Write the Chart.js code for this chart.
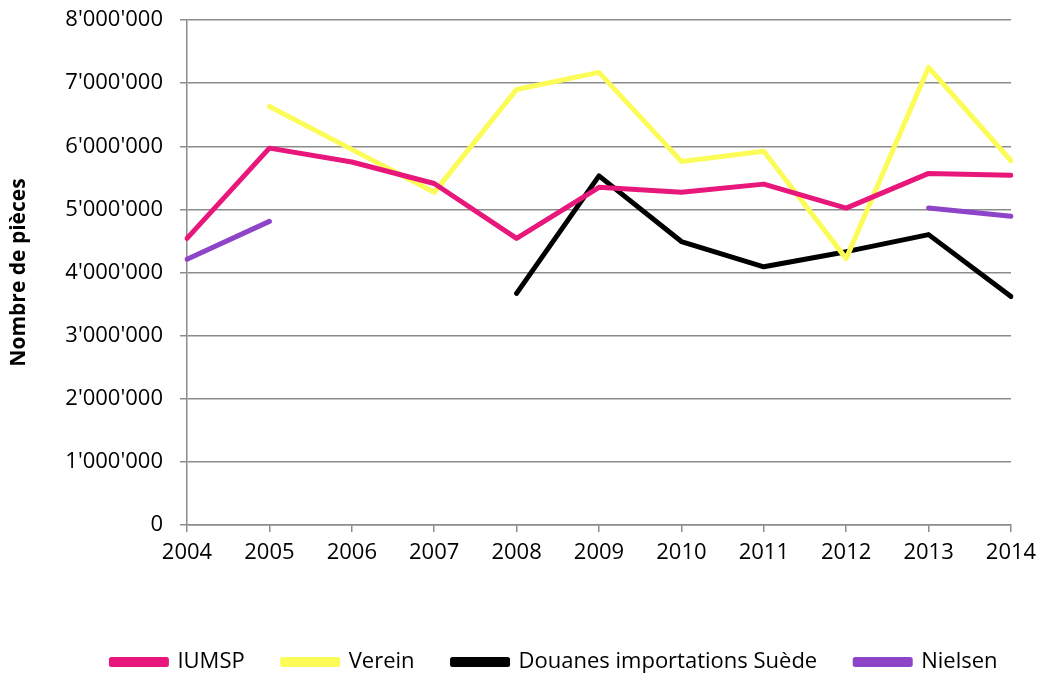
<!DOCTYPE html>
<html>
<head>
<meta charset="utf-8">
<script src="https://cdn.jsdelivr.net/npm/chart.js@4"></script>
<style>
  html, body { margin: 0; padding: 0; background: #fff; }
  #wrap { width: 1040px; height: 673px; }
</style>
</head>
<body>
<div id="wrap"><canvas id="chart"></canvas></div>
<script>
// Years on the x axis
const years = ['2004', '2005', '2006', '2007', '2008', '2009', '2010', '2011', '2012', '2013', '2014'];

// Series values (pieces), null where no data
const iumsp = [4540000, 5970000, 5750000, 5410000, 4540000, 5350000, 5270000, 5400000, 5020000, 5570000, 5540000];
const verein = [null, 6630000, 5950000, 5270000, 6900000, 7170000, 5760000, 5920000, 4220000, 7250000, 5770000];
const douanes = [null, null, null, null, 3670000, 5530000, 4490000, 4090000, 4330000, 4600000, 3620000];
const nielsen = [4210000, 4810000, null, null, null, null, null, null, null, 5020000, 4890000];

const FONT = "'Open Sans', sans-serif";
const GRID = '#8c8c8c';

// 8'000'000 style thousands separator
function swissFormat(v) {
  return String(v).replace(/\B(?=(\d{3})+(?!\d))/g, "'");
}

function lineSet(label, data, color) {
  return {
    label,
    data,
    borderColor: color,
    backgroundColor: color,
    borderWidth: 5,
    pointRadius: 0,
    tension: 0,
    spanGaps: false,
    borderCapStyle: 'round',
    borderJoinStyle: 'round',
  };
}

// legend sits a bit right of the canvas centre in the original
const legendShift = {
  id: 'legendShift',
  afterLayout(chart) {
    if (chart.legend) {
      chart.legend.left += 49;
      chart.legend.right += 49;
    }
  },
};

new Chart(document.getElementById('chart'), {
  type: 'line',
  data: {
    labels: years,
    datasets: [
      lineSet('IUMSP', iumsp, '#E8177B'),
      lineSet('Verein', verein, '#FCFC58'),
      lineSet('Douanes importations Suède', douanes, '#000000'),
      lineSet('Nielsen', nielsen, '#8E44C8'),
    ],
  },
  plugins: [legendShift],
  options: {
    responsive: true,
    maintainAspectRatio: false,
    animation: false,
    layout: { padding: { top: 20, right: 29, left: 0, bottom: -10 } },
    plugins: {
      tooltip: { enabled: false },
      legend: {
        position: 'bottom',
        labels: {
          color: '#000',
          font: { family: FONT, size: 22 },
          boxWidth: 55,
          boxHeight: 5,
          padding: 38,
        },
      },
    },
    scales: {
      x: {
        offset: false,
        grid: { drawOnChartArea: false, drawTicks: true, tickLength: 7, color: GRID, lineWidth: 1.5 },
        border: { color: GRID, width: 1.5 },
        ticks: { color: '#000', font: { family: FONT, size: 22 }, padding: 8, maxRotation: 0 },
        afterFit: (scale) => {
          scale.height = 88;
          scale.paddingLeft = 0;
          scale.paddingRight = 0;
        },
      },
      y: {
        min: 0,
        max: 8000000,
        grid: { color: GRID, lineWidth: 1.5, tickLength: 7 },
        border: { color: GRID, width: 1.5 },
        ticks: {
          stepSize: 1000000,
          color: '#000',
          font: { family: FONT, size: 22 },
          padding: 17,
          callback: (v) => swissFormat(v),
        },
        title: {
          display: true,
          text: 'Nombre de pièces',
          color: '#000',
          font: { family: FONT, size: 21, weight: 'bold' },
          padding: { top: 6, bottom: 0 },
        },
        afterFit: (scale) => {
          scale.width = 187;
          scale.paddingTop = 0;
          scale.paddingBottom = 0;
        },
      },
    },
  },
});
</script>
</body>
</html>
